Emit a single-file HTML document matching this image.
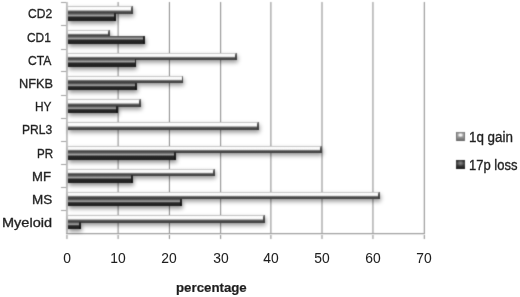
<!DOCTYPE html>
<html><head><meta charset="utf-8"><style>
html,body{margin:0;padding:0;background:#fff;}
body{width:520px;height:297px;position:relative;overflow:hidden;font-family:"Liberation Sans",sans-serif;color:#1e1e1e;}
.a{position:absolute;}
.g{position:absolute;width:1px;background:#8a8a8a;}
.h{position:absolute;height:1px;background:#8a8a8a;}
.bl{position:absolute;background:linear-gradient(to bottom,#a8a8a8 0%,#d0d0d0 9%,#ffffff 16%,#f8f8f8 48%,#909090 60%,#4a4a4a 72%,#404040 100%);box-shadow:0.8px 2.5px 4px rgba(0,0,0,0.40);}
.bd{position:absolute;background:linear-gradient(to bottom,#4e4e4e 0%,#5a5a5a 12%,#a0a0a0 28%,#a0a0a0 34%,#555555 46%,#262626 56%,#202020 100%);box-shadow:0.8px 2.5px 4px rgba(0,0,0,0.45);}
.cl{position:absolute;right:0;top:0;bottom:0;width:1.7px;border-top-left-radius:1.5px 2px;background:linear-gradient(to bottom,#707070 0%,#505050 40%,#383838 100%);}
.cd{position:absolute;right:0;top:0;bottom:0;width:1.8px;background:linear-gradient(to bottom,#2a2a2a 0%,#111 100%);}
.t{position:absolute;white-space:nowrap;font-size:13px;line-height:13px;transform-origin:0 0;-webkit-text-stroke:0.35px #2a2a2a;}
#w{position:absolute;left:0;top:0;width:520px;height:297px;filter:url(#fb);}
</style></head><body><svg width="0" height="0" style="position:absolute"><filter id="fb" x="0" y="0" width="100%" height="100%" color-interpolation-filters="sRGB"><feConvolveMatrix order="3" kernelMatrix="0.04 0.2 0.04 0.2 1 0.2 0.04 0.2 0.04" divisor="1.96" edgeMode="duplicate" preserveAlpha="false"/></filter></svg><div id="w">

<div class="a" style="left:66px;top:2px;width:1px;height:237px;background:rgb(189,189,189)"></div>
<div class="a" style="left:67px;top:2px;width:1px;height:237px;background:rgb(201,201,201)"></div>
<div class="a" style="left:117px;top:2px;width:1px;height:237px;background:rgb(207,207,207)"></div>
<div class="a" style="left:118px;top:2px;width:1px;height:237px;background:rgb(183,183,183)"></div>
<div class="a" style="left:168px;top:2px;width:1px;height:237px;background:rgb(243,243,243)"></div>
<div class="a" style="left:169px;top:2px;width:1px;height:237px;background:rgb(147,147,147)"></div>
<div class="a" style="left:220px;top:2px;width:1px;height:237px;background:rgb(153,153,153)"></div>
<div class="a" style="left:221px;top:2px;width:1px;height:237px;background:rgb(237,237,237)"></div>
<div class="a" style="left:270px;top:2px;width:1px;height:237px;background:rgb(183,183,183)"></div>
<div class="a" style="left:271px;top:2px;width:1px;height:237px;background:rgb(207,207,207)"></div>
<div class="a" style="left:321px;top:2px;width:1px;height:237px;background:rgb(195,195,195)"></div>
<div class="a" style="left:322px;top:2px;width:1px;height:237px;background:rgb(195,195,195)"></div>
<div class="a" style="left:372px;top:2px;width:1px;height:237px;background:rgb(189,189,189)"></div>
<div class="a" style="left:373px;top:2px;width:1px;height:237px;background:rgb(201,201,201)"></div>
<div class="a" style="left:423px;top:2px;width:1px;height:237px;background:rgb(231,231,231)"></div>
<div class="a" style="left:424px;top:2px;width:1px;height:237px;background:rgb(159,159,159)"></div>
<div class="a" style="left:66px;top:233px;width:359px;height:1px;background:rgb(159,159,159)"></div>
<div class="a" style="left:66px;top:234px;width:359px;height:1px;background:rgb(231,231,231)"></div>
<div class="a" style="left:61px;top:2px;width:5px;height:1px;background:#a0a0a0"></div>
<div class="a" style="left:61px;top:25px;width:5px;height:1px;background:#a0a0a0"></div>
<div class="a" style="left:61px;top:49px;width:5px;height:1px;background:#a0a0a0"></div>
<div class="a" style="left:61px;top:71px;width:5px;height:1px;background:#a0a0a0"></div>
<div class="a" style="left:61px;top:95px;width:5px;height:1px;background:#a0a0a0"></div>
<div class="a" style="left:61px;top:118px;width:5px;height:1px;background:#a0a0a0"></div>
<div class="a" style="left:61px;top:141px;width:5px;height:1px;background:#a0a0a0"></div>
<div class="a" style="left:61px;top:164px;width:5px;height:1px;background:#a0a0a0"></div>
<div class="a" style="left:61px;top:187px;width:5px;height:1px;background:#a0a0a0"></div>
<div class="a" style="left:61px;top:210px;width:5px;height:1px;background:#a0a0a0"></div>
<div class="bl" style="left:67.50px;top:6.40px;width:65.10px;height:7.40px"><div class="cl"></div></div>
<div class="bl" style="left:67.50px;top:29.60px;width:42.10px;height:7.40px"><div class="cl"></div></div>
<div class="bl" style="left:67.50px;top:52.80px;width:169.10px;height:7.40px"><div class="cl"></div></div>
<div class="bl" style="left:67.50px;top:76.00px;width:115.90px;height:7.40px"><div class="cl"></div></div>
<div class="bl" style="left:67.50px;top:99.20px;width:73.50px;height:7.40px"><div class="cl"></div></div>
<div class="bl" style="left:67.50px;top:122.40px;width:191.30px;height:7.40px"><div class="cl"></div></div>
<div class="bl" style="left:67.50px;top:145.60px;width:254.40px;height:7.40px"><div class="cl"></div></div>
<div class="bl" style="left:67.50px;top:168.80px;width:147.30px;height:7.40px"><div class="cl"></div></div>
<div class="bl" style="left:67.50px;top:192.00px;width:312.40px;height:7.40px"><div class="cl"></div></div>
<div class="bl" style="left:67.50px;top:215.20px;width:197.30px;height:7.40px"><div class="cl"></div></div>
<div class="bd" style="left:67.50px;top:13.00px;width:48.00px;height:7.60px"><div class="cd"></div></div>
<div class="bd" style="left:67.50px;top:36.20px;width:77.70px;height:7.60px"><div class="cd"></div></div>
<div class="bd" style="left:67.50px;top:59.40px;width:68.90px;height:7.60px"><div class="cd"></div></div>
<div class="bd" style="left:67.50px;top:82.60px;width:69.50px;height:7.60px"><div class="cd"></div></div>
<div class="bd" style="left:67.50px;top:105.80px;width:50.10px;height:7.60px"><div class="cd"></div></div>
<div class="bd" style="left:67.50px;top:152.20px;width:108.20px;height:7.60px"><div class="cd"></div></div>
<div class="bd" style="left:67.50px;top:175.40px;width:65.10px;height:7.60px"><div class="cd"></div></div>
<div class="bd" style="left:67.50px;top:198.60px;width:114.50px;height:7.60px"><div class="cd"></div></div>
<div class="bd" style="left:67.50px;top:221.80px;width:13.30px;height:7.60px"><div class="cd"></div></div>
<div class="a" style="left:456px;top:132px;width:9px;height:9px;background:radial-gradient(ellipse 32% 26% at 50% 34%,#ffffff 0%,#f0f0f0 40%,rgba(255,255,255,0) 100%),linear-gradient(to bottom,#7c7c7c 0%,#a4a4a4 22%,#989898 55%,#747474 85%,#5e5e5e 100%);box-shadow:inset 1px 0 #767676,inset -1px 0 #767676;"></div>
<div class="a" style="left:456px;top:160px;width:9px;height:9px;background:radial-gradient(ellipse 40% 35% at 50% 35%,#8c8c8c 0%,rgba(70,70,70,0) 100%),linear-gradient(to bottom,#2e2e2e 0%,#444 40%,#2a2a2a 80%,#1a1a1a 100%);"></div>
</div>
<div class="t" style="left:27.55px;top:7.32px;font-size:13.5px;line-height:13.5px;transform:scale(0.8923,1)">CD2</div>
<div class="t" style="left:27.26px;top:30.52px;font-size:13.5px;line-height:13.5px;transform:scale(0.8808,1)">CD1</div>
<div class="t" style="left:28.05px;top:53.73px;font-size:13.5px;line-height:13.5px;transform:scale(0.8980,1)">CTA</div>
<div class="t" style="left:19.16px;top:76.92px;font-size:13.5px;line-height:13.5px;transform:scale(0.9431,1)">NFKB</div>
<div class="t" style="left:35.42px;top:100.12px;font-size:13.5px;line-height:13.5px;transform:scale(0.8800,1)">HY</div>
<div class="t" style="left:22.11px;top:123.32px;font-size:13.5px;line-height:13.5px;transform:scale(0.8930,1)">PRL3</div>
<div class="t" style="left:36.74px;top:146.52px;font-size:13.5px;line-height:13.5px;transform:scale(0.8580,1)">PR</div>
<div class="t" style="left:32.13px;top:169.72px;font-size:13.5px;line-height:13.5px;transform:scale(0.9722,1)">MF</div>
<div class="t" style="left:32.40px;top:192.92px;font-size:13.5px;line-height:13.5px;transform:scale(0.9973,1)">MS</div>
<div class="t" style="left:2.13px;top:216.12px;font-size:13.5px;line-height:13.5px;transform:scale(1.0749,1)">Myeloid</div>
<div class="t" style="left:46.95px;top:251.20px;width:40px;text-align:center;font-size:14.5px;line-height:14.5px;transform-origin:50% 0;transform:scaleX(0.955);-webkit-text-stroke:0.05px #262626">0</div>
<div class="t" style="left:98.10px;top:251.20px;width:40px;text-align:center;font-size:14.5px;line-height:14.5px;transform-origin:50% 0;transform:scaleX(0.955);-webkit-text-stroke:0.05px #262626">10</div>
<div class="t" style="left:149.40px;top:251.20px;width:40px;text-align:center;font-size:14.5px;line-height:14.5px;transform-origin:50% 0;transform:scaleX(0.955);-webkit-text-stroke:0.05px #262626">20</div>
<div class="t" style="left:200.65px;top:251.20px;width:40px;text-align:center;font-size:14.5px;line-height:14.5px;transform-origin:50% 0;transform:scaleX(0.955);-webkit-text-stroke:0.05px #262626">30</div>
<div class="t" style="left:250.90px;top:251.20px;width:40px;text-align:center;font-size:14.5px;line-height:14.5px;transform-origin:50% 0;transform:scaleX(0.955);-webkit-text-stroke:0.05px #262626">40</div>
<div class="t" style="left:302.00px;top:251.20px;width:40px;text-align:center;font-size:14.5px;line-height:14.5px;transform-origin:50% 0;transform:scaleX(0.955);-webkit-text-stroke:0.05px #262626">50</div>
<div class="t" style="left:352.95px;top:251.20px;width:40px;text-align:center;font-size:14.5px;line-height:14.5px;transform-origin:50% 0;transform:scaleX(0.955);-webkit-text-stroke:0.05px #262626">60</div>
<div class="t" style="left:404.30px;top:251.20px;width:40px;text-align:center;font-size:14.5px;line-height:14.5px;transform-origin:50% 0;transform:scaleX(0.955);-webkit-text-stroke:0.05px #262626">70</div>
<div class="t" id="T" style="left:176.00px;top:280.70px;font-weight:bold;font-size:13px;-webkit-text-stroke:0.2px #1e1e1e;transform:scale(1.0200,1.0000)">percentage</div>
<div class="t" style="left:468.94px;top:129.70px;font-size:14.0px;line-height:14.0px;transform:scale(0.9568,1)">1q gain</div>
<div class="t" style="left:468.97px;top:157.60px;font-size:14.0px;line-height:14.0px;transform:scale(0.9300,1)">17p loss</div>
</body></html>
